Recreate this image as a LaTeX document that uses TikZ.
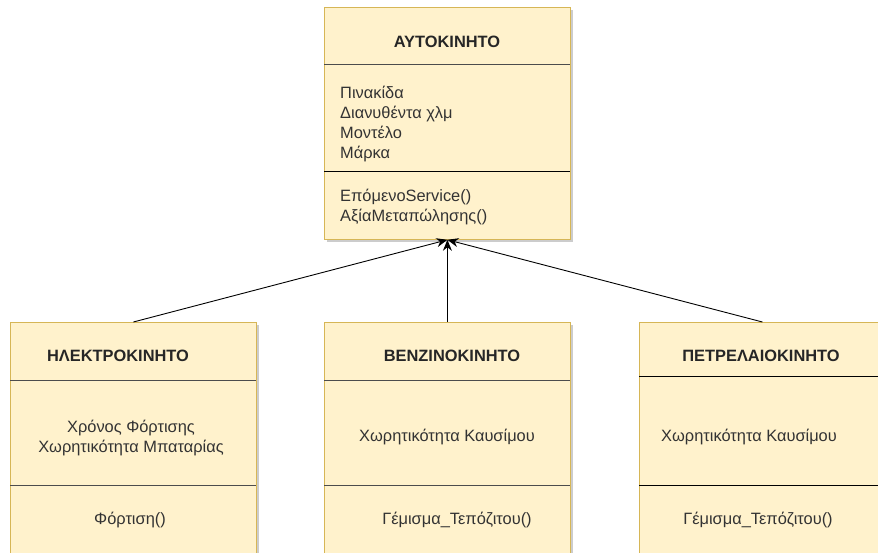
\documentclass[tikz,border=0pt]{standalone}
\usepackage{fontspec}
\setmainfont{Liberation Sans}
\usetikzlibrary{arrows.meta,shadows}
\usetikzlibrary{positioning}
\definecolor{umlfill}{HTML}{FFF2CC}
\definecolor{umlline}{HTML}{D6B656}
\tikzset{
  classbox/.style={draw=umlline, fill=umlfill, line width=0.8pt, inner sep=0pt, anchor=north west,
    drop shadow={shadow xshift=3pt, shadow yshift=-3pt, fill=black!40, opacity=0.5}},
  classname/.style={font=\fontsize{16.4}{19.7}\selectfont\bfseries, text=black!85, inner sep=0pt},
  member/.style={font=\fontsize{16.4}{19.7}\selectfont, text=black!80, align=left, inner sep=0pt},
  sepline/.style={draw=black!70, line width=1pt},
  inherit/.style={-{Stealth[length=11pt,width=9pt]}, line width=0.9pt},
}

\begin{document}
\begin{tikzpicture}[x=1pt, y=-1pt]
                \path[use as bounding box] (0,0) rectangle (878,553);
                \clip (0,0) rectangle (878,553);
                % superclass
                \node[classbox, minimum width=246pt, minimum height=232pt] (auto) at (324,7) {};
                \draw[sepline] (324,65) -- (570,65);
                \draw[sepline, draw=black] (324,172) -- (570,172);
                \node[classname] (autoname) at (447,42) {ΑΥΤΟΚΙΝΗΤΟ};
                \node[member, anchor=west] (autoattr) at (340,124) {Πινακίδα\\Διανυθέντα χλμ\\Μοντέλο\\Μάρκα};
                \node[member, anchor=west] (autoop) at (340,207) {ΕπόμενοService()\\ΑξίαΜεταπώλησης()};
                % subclasses
                \node[classbox, minimum width=246pt, minimum height=260pt] (ilektro) at (10,322) {};
                \draw[sepline] (10,380) -- (256,380);
                \draw[sepline] (10,485) -- (256,485);
                \node[classname] (ilektroname) at (118,356) {ΗΛΕΚΤΡΟΚΙΝΗΤΟ};
                \node[member, align=center] (ilektroattr) at (131,438) {Χρόνος Φόρτισης\\Χωρητικότητα Μπαταρίας};
                \node[member] (ilektroop) at (130,520) {Φόρτιση()};

                \node[classbox, minimum width=246pt, minimum height=260pt] (venzino) at (324,322) {};
                \draw[sepline] (324,380) -- (570,380);
                \draw[sepline] (324,485) -- (570,485);
                \node[classname] (venzinoname) at (452,356) {ΒΕΝΖΙΝΟΚΙΝΗΤΟ};
                \node[member] (venzinoattr) at (447,437) {Χωρητικότητα Καυσίμου};
                \node[member] (venzinoop) at (457,520) {Γέμισμα\_Τεπόζιτου()};

                \node[classbox, minimum width=246pt, minimum height=260pt] (petrelaio) at (639,322) {};
                \draw[sepline, draw=black] (639,376) -- (885,376);
                \draw[sepline, draw=black] (639,485) -- (885,485);
                \node[classname] (petrelaioname) at (761,356) {ΠΕΤΡΕΛΑΙΟΚΙΝΗΤΟ};
                \node[member] (petrelaioattr) at (749,437) {Χωρητικότητα Καυσίμου};
                \node[member] (petrelaioop) at (758,520) {Γέμισμα\_Τεπόζιτου()};
                % generalisation
                \draw[inherit] (ilektro.north) -- (auto.south);
                \draw[inherit] (venzino.north) -- (auto.south);
                \draw[inherit] (petrelaio.north) -- (auto.south);
            \end{tikzpicture}
\end{document}
